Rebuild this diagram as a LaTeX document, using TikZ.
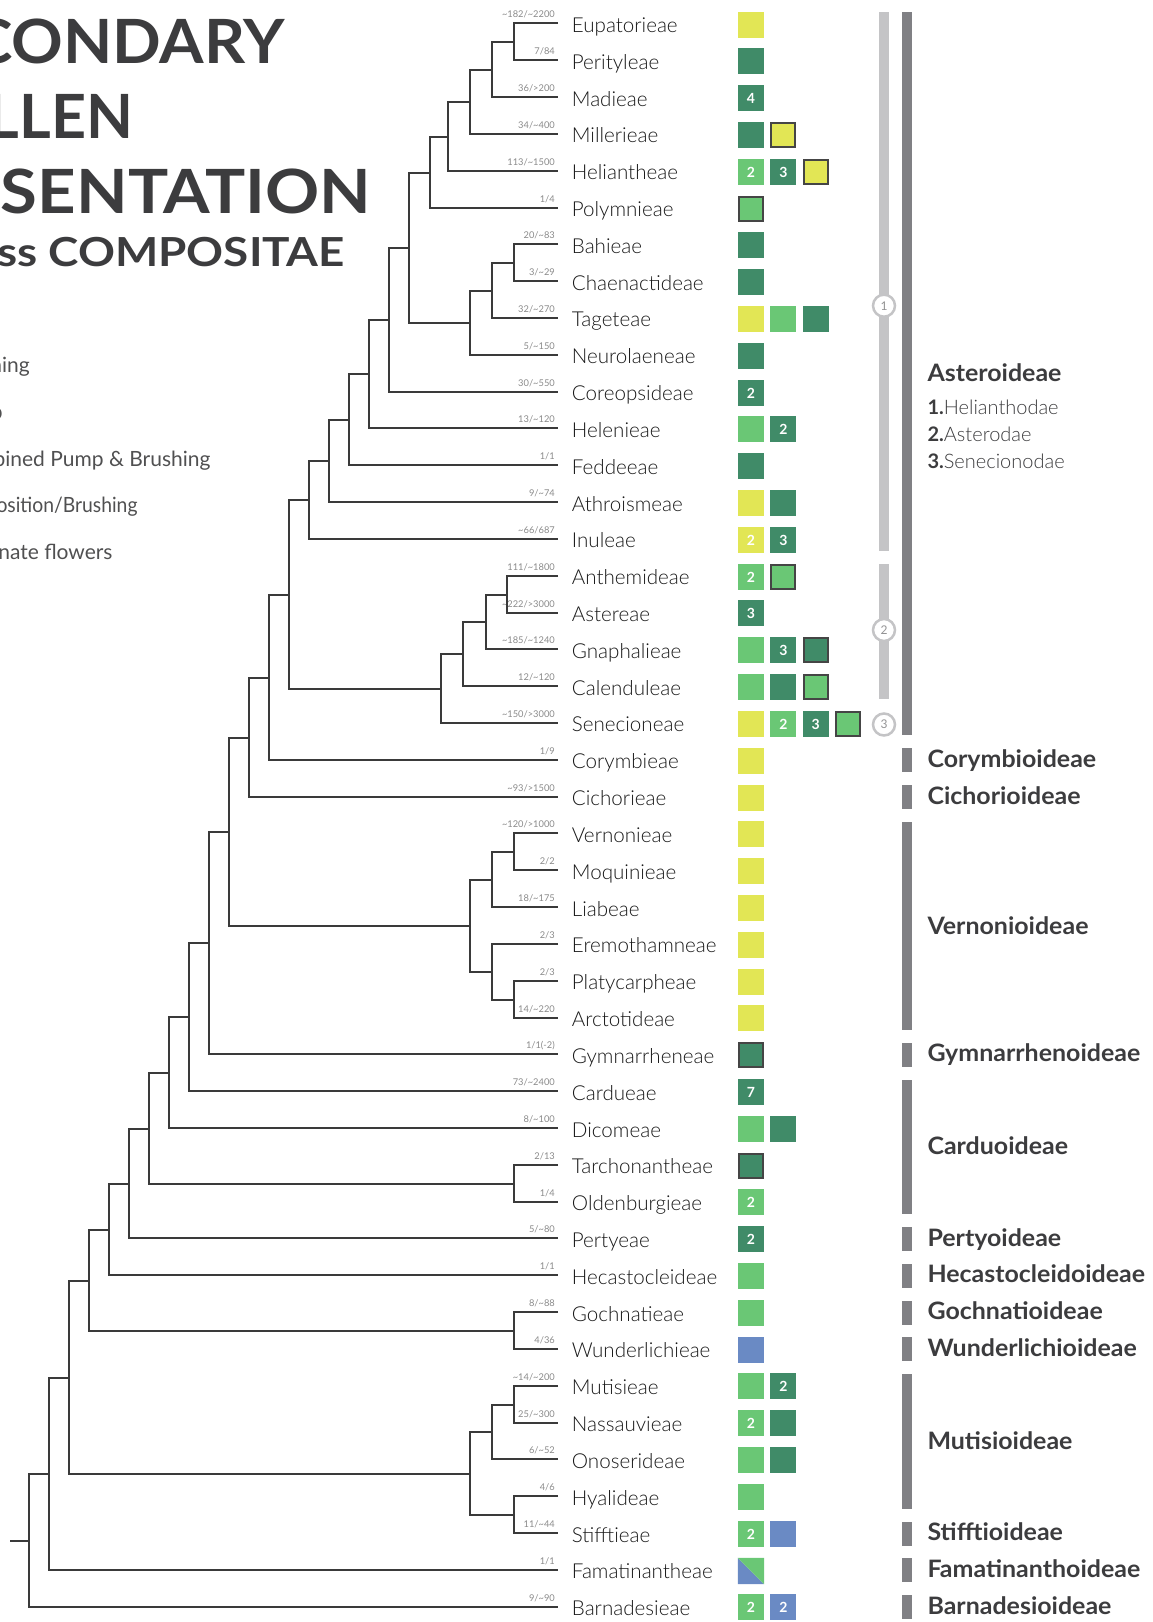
\documentclass[tikz,border=0pt]{standalone}
\usepackage{fontspec}
\setmainfont{Lato}
\IfFontExistsTF{Lato Light}{\newfontfamily\lightf{Lato Light}}{\newfontfamily\lightf{Lato}}
\usetikzlibrary{calc}
\definecolor{ylw}{HTML}{E2E655}
\definecolor{lgr}{HTML}{6AC775}
\definecolor{dgr}{HTML}{408B68}
\definecolor{blu}{HTML}{6A8AC4}
\definecolor{outl}{HTML}{454545}
\definecolor{lbar}{HTML}{C4C4C6}
\definecolor{dbar}{HTML}{808084}
\definecolor{ink}{HTML}{3C3C3E}
\definecolor{treec}{HTML}{3A3A3A}
\definecolor{cntc}{HTML}{8A8A8A}
\newcommand\fs[1]{\fontsize{#1}{#1}\selectfont}
\newcommand\tl{\char"7E\relax}
\tikzset{
 branch/.style={draw=treec, line width=2pt},
 tname/.style={anchor=base west, font=\lightf\fs{20.6}, text=black!90, inner sep=0},
 tcount/.style={anchor=base east, font=\fs{9.3}, text=cntc, inner sep=0},
 sq/.style={minimum size=26pt, inner sep=0, font=\bfseries\fs{14}, text=white},
 ol/.style={draw=outl, line width=2pt, minimum size=24pt},
 subfam/.style={anchor=base west, font=\bfseries\fs{24}, text=ink, inner sep=0},
 subsub/.style={anchor=base west, font=\lightf\fs{20}, text=ink, inner sep=0},
 ring/.style={circle, draw=lbar, line width=2.5pt, fill=white, minimum size=22pt, inner sep=0, font=\fs{12}, text=lbar!75!black},
 title/.style={anchor=base east, font=\bfseries\fs{61}, text=ink, inner sep=0},
 legtext/.style={anchor=base east, font=\fs{21}, text=ink!90, inner sep=0},
}
\newcommand\leaf[3]{%
 \coordinate (l#1) at (558,{round(23.4+36.82*#1)});
 \node[tname] (n#1) at (571.7,{23.4+36.82*#1+9}) {#2};
 \node[tcount] (k#1) at (555,{23.4+36.82*#1-5.5}) {#3};
}
\newcommand\bx[5]{%
 \node[sq, fill=#3, #5] (b#1-#2) at ({751+32.3*#2},{round(24.5+36.81*#1)}) {#4};
}
\newcommand\joinnode[4]{%
 \path let \p1=(#3), \p2=(#4) in coordinate (#1) at (#2,{round(0.5*(\y1+\y2))});
 \draw[branch] (#3) -| (#1) |- (#4);
}
\newcommand\dkbar[2]{%
 \fill[dbar] (902,{round(23.4+36.82*#1-11.5)}) rectangle (912,{round(23.4+36.82*#2+12.5)});
}
\newcommand\sfl[3]{%
 \node[subfam] (#1) at (927.3,#2) {\scalebox{1.04}[1]{#3}};
}
\begin{document}
\begin{tikzpicture}[x=1pt,y=-1pt]
\useasboundingbox (0,0) rectangle (1152,1622);
\begin{scope}
\clip (0,0) rectangle (1152,1622);
\node[title] (t1) at (285,63.3) {\scalebox{1.05}[1]{SECONDARY}};
\node[title] (t2) at (133.3,138.3) {POLLEN};
\node[title] (t3) at (371.7,213.3) {\scalebox{1.1}[1]{PRESENTATION}};
\node[title, font=\bfseries\fs{40}] (t4) at (345,266.7) {\scalebox{1.145}[1]{across COMPOSITAE}};
\node[legtext] (g1) at (30,372.7) {Cleaning};
\node[legtext] (g2) at (2.7,419.3) {Pump};
\node[legtext] (g3) at (210.7,466) {Combined Pump \& Brushing};
\node[legtext] (g4) at (137.7,512.5) {\scalebox{0.92}[1]{Deposition/Brushing}};
\node[legtext] (g5) at (112.7,559) {Staminate flowers};
\end{scope}
% leaves
\leaf{0}{Eupatorieae}{\tl182/\tl2200}
\leaf{1}{Perityleae}{7/84}
\leaf{2}{Madieae}{36/>200}
\leaf{3}{Millerieae}{34/\tl400}
\leaf{4}{Heliantheae}{113/\tl1500}
\leaf{5}{Polymnieae}{1/4}
\leaf{6}{Bahieae}{20/\tl83}
\leaf{7}{Chaenactideae}{3/\tl29}
\leaf{8}{Tageteae}{32/\tl270}
\leaf{9}{Neurolaeneae}{5/\tl150}
\leaf{10}{Coreopsideae}{30/\tl550}
\leaf{11}{Helenieae}{13/\tl120}
\leaf{12}{Feddeeae}{1/1}
\leaf{13}{Athroismeae}{9/\tl74}
\leaf{14}{Inuleae}{\tl66/687}
\leaf{15}{Anthemideae}{111/\tl1800}
\leaf{16}{Astereae}{\tl222/>3000}
\leaf{17}{Gnaphalieae}{\tl185/\tl1240}
\leaf{18}{Calenduleae}{12/\tl120}
\leaf{19}{Senecioneae}{\tl150/>3000}
\leaf{20}{Corymbieae}{1/9}
\leaf{21}{Cichorieae}{\tl93/>1500}
\leaf{22}{Vernonieae}{\tl120/>1000}
\leaf{23}{Moquinieae}{2/2}
\leaf{24}{Liabeae}{18/\tl175}
\leaf{25}{Eremothamneae}{2/3}
\leaf{26}{Platycarpheae}{2/3}
\leaf{27}{Arctotideae}{14/\tl220}
\leaf{28}{Gymnarrheneae}{1/1(-2)}
\leaf{29}{Cardueae}{73/\tl2400}
\leaf{30}{Dicomeae}{8/\tl100}
\leaf{31}{Tarchonantheae}{2/13}
\leaf{32}{Oldenburgieae}{1/4}
\leaf{33}{Pertyeae}{5/\tl80}
\leaf{34}{Hecastocleideae}{1/1}
\leaf{35}{Gochnatieae}{8/\tl88}
\leaf{36}{Wunderlichieae}{4/36}
\leaf{37}{Mutisieae}{\tl14/\tl200}
\leaf{38}{Nassauvieae}{25/\tl300}
\leaf{39}{Onoserideae}{6/\tl52}
\leaf{40}{Hyalideae}{4/6}
\leaf{41}{Stifftieae}{11/\tl44}
\leaf{42}{Famatinantheae}{1/1}
\leaf{43}{Barnadesieae}{9/\tl90}
% tree
\joinnode{h1}{514}{l0}{l1}
\joinnode{h2}{492}{h1}{l2}
\joinnode{h3}{470}{h2}{l3}
\joinnode{h4}{448}{h3}{l4}
\joinnode{h5}{430}{h4}{l5}
\joinnode{b1}{514}{l6}{l7}
\joinnode{b2}{492}{b1}{l8}
\joinnode{b3}{470}{b2}{l9}
\joinnode{h6}{409}{h5}{b3}
\joinnode{s1}{389}{h6}{l10}
\joinnode{s2}{369}{s1}{l11}
\joinnode{s3}{349}{s2}{l12}
\joinnode{s4}{329}{s3}{l13}
\joinnode{s5}{309}{s4}{l14}
\joinnode{a1}{507}{l15}{l16}
\joinnode{a2}{486}{a1}{l17}
\joinnode{a3}{463}{a2}{l18}
\joinnode{a4}{441}{a3}{l19}
\joinnode{s6}{289}{s5}{a4}
\joinnode{s7}{269}{s6}{l20}
\joinnode{s8}{249}{s7}{l21}
\joinnode{v1}{514}{l22}{l23}
\joinnode{v2}{492}{v1}{l24}
\joinnode{v3}{514}{l26}{l27}
\joinnode{v4}{492}{l25}{v3}
\joinnode{v5}{470}{v2}{v4}
\joinnode{s9}{229}{s8}{v5}
\joinnode{s10}{209}{s9}{l28}
\joinnode{s11}{189}{s10}{l29}
\joinnode{s12}{169}{s11}{l30}
\joinnode{c1}{514}{l31}{l32}
\joinnode{s13}{149}{s12}{c1}
\joinnode{s14}{129}{s13}{l33}
\joinnode{s15}{109}{s14}{l34}
\joinnode{g1n}{514}{l35}{l36}
\joinnode{s16}{89}{s15}{g1n}
\joinnode{m1}{514}{l37}{l38}
\joinnode{m2}{492}{m1}{l39}
\joinnode{m3}{514}{l40}{l41}
\joinnode{m4}{470}{m2}{m3}
\joinnode{s17}{69}{s16}{m4}
\joinnode{s18}{49}{s17}{l42}
\joinnode{s19}{29}{s18}{l43}
\coordinate (r0) at (10,0 |- s19);
\draw[branch] (r0) -- (s19);
% boxes
\bx{0}{0}{ylw}{}{}
\bx{1}{0}{dgr}{}{}
\bx{2}{0}{dgr}{4}{}
\bx{3}{0}{dgr}{}{} \bx{3}{1}{ylw}{}{ol}
\bx{4}{0}{lgr}{2}{} \bx{4}{1}{dgr}{3}{} \bx{4}{2}{ylw}{}{ol}
\bx{5}{0}{lgr}{}{ol}
\bx{6}{0}{dgr}{}{}
\bx{7}{0}{dgr}{}{}
\bx{8}{0}{ylw}{}{} \bx{8}{1}{lgr}{}{} \bx{8}{2}{dgr}{}{}
\bx{9}{0}{dgr}{}{}
\bx{10}{0}{dgr}{2}{}
\bx{11}{0}{lgr}{}{} \bx{11}{1}{dgr}{2}{}
\bx{12}{0}{dgr}{}{}
\bx{13}{0}{ylw}{}{} \bx{13}{1}{dgr}{}{}
\bx{14}{0}{ylw}{2}{} \bx{14}{1}{dgr}{3}{}
\bx{15}{0}{lgr}{2}{} \bx{15}{1}{lgr}{}{ol}
\bx{16}{0}{dgr}{3}{}
\bx{17}{0}{lgr}{}{} \bx{17}{1}{dgr}{3}{} \bx{17}{2}{dgr}{}{ol}
\bx{18}{0}{lgr}{}{} \bx{18}{1}{dgr}{}{} \bx{18}{2}{lgr}{}{ol}
\bx{19}{0}{ylw}{}{} \bx{19}{1}{lgr}{2}{} \bx{19}{2}{dgr}{3}{} \bx{19}{3}{lgr}{}{ol}
\bx{20}{0}{ylw}{}{}
\bx{21}{0}{ylw}{}{}
\bx{22}{0}{ylw}{}{}
\bx{23}{0}{ylw}{}{}
\bx{24}{0}{ylw}{}{}
\bx{25}{0}{ylw}{}{}
\bx{26}{0}{ylw}{}{}
\bx{27}{0}{ylw}{}{}
\bx{28}{0}{dgr}{}{ol}
\bx{29}{0}{dgr}{7}{}
\bx{30}{0}{lgr}{}{} \bx{30}{1}{dgr}{}{}
\bx{31}{0}{dgr}{}{ol}
\bx{32}{0}{lgr}{2}{}
\bx{33}{0}{dgr}{2}{}
\bx{34}{0}{lgr}{}{}
\bx{35}{0}{lgr}{}{}
\bx{36}{0}{blu}{}{}
\bx{37}{0}{lgr}{}{} \bx{37}{1}{dgr}{2}{}
\bx{38}{0}{lgr}{2}{} \bx{38}{1}{dgr}{}{}
\bx{39}{0}{lgr}{}{} \bx{39}{1}{dgr}{}{}
\bx{40}{0}{lgr}{}{}
\bx{41}{0}{lgr}{2}{} \bx{41}{1}{blu}{}{}
\node[sq] (b42-0) at (751,{round(24.5+36.81*42)}) {};
\fill[blu] (b42-0.north west) -- (b42-0.south east) -- (b42-0.south west) -- cycle;
\fill[lgr] (b42-0.north west) -- (b42-0.north east) -- (b42-0.south east) -- cycle;
\bx{43}{0}{lgr}{2}{} \bx{43}{1}{blu}{2}{}
% side bars
\fill[lbar] (879,12) rectangle (889,551);
\fill[lbar] (879,564) rectangle (889,699);
\node[ring] (c1r) at (884,305.7) {1};
\node[ring] (c2r) at (884,630) {2};
\node[ring] (c3r) at (884,724.5) {3};
\dkbar{0}{19}
\dkbar{20}{20}
\dkbar{21}{21}
\dkbar{22}{27}
\dkbar{28}{28}
\dkbar{29}{32}
\dkbar{33}{33}
\dkbar{34}{34}
\dkbar{35}{35}
\dkbar{36}{36}
\dkbar{37}{40}
\dkbar{41}{41}
\dkbar{42}{42}
\dkbar{43}{43}
% subfamily labels
\sfl{f1}{381}{Asteroideae}
\node[subsub] (f1a) at (927.3,414.3) {{\normalfont\bfseries 1.}Helianthodae};
\node[subsub] (f1b) at (927.3,441) {{\normalfont\bfseries 2.}Asterodae};
\node[subsub] (f1c) at (927.3,468.3) {{\normalfont\bfseries 3.}Senecionodae};
\sfl{f2}{767.4}{Corymbioideae}
\sfl{f3}{804.3}{Cichorioideae}
\sfl{f4}{934}{Vernonioideae}
\sfl{f5}{1061.9}{Gymnarrhenoideae}
\sfl{f6}{1154.5}{Carduoideae}
\sfl{f7}{1246}{Pertyoideae}
\sfl{f8}{1282.8}{Hecastocleidoideae}
\sfl{f9}{1319.6}{Gochnatioideae}
\sfl{f10}{1356.4}{Wunderlichioideae}
\sfl{f11}{1449}{Mutisioideae}
\sfl{f12}{1540.5}{Stifftioideae}
\sfl{f13}{1577.3}{Famatinanthoideae}
\sfl{f14}{1614.2}{Barnadesioideae}
\end{tikzpicture}
\end{document}
